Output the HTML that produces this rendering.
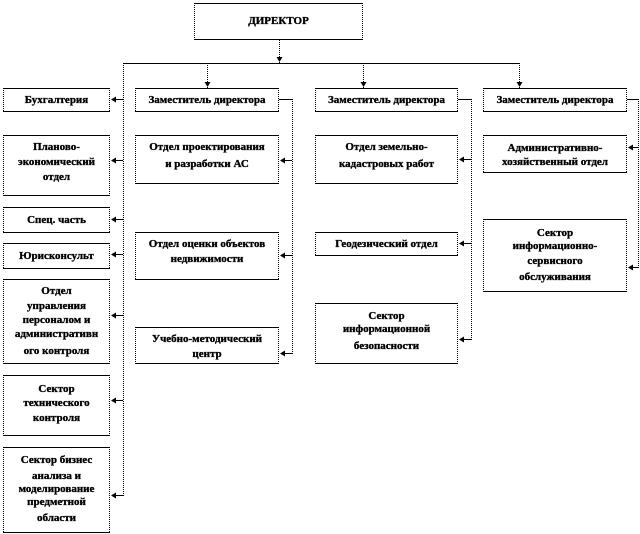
<!DOCTYPE html>
<html><head><meta charset="utf-8"><style>
html,body{margin:0;padding:0;background:#fff;}
svg{display:block;}
text{font-family:"Liberation Serif",serif;font-weight:bold;font-size:11px;fill:#000;stroke:#000;stroke-width:0.35px;text-anchor:middle;}
.s{stroke:#000;stroke-width:1;fill:none;}
.d{stroke:#000;stroke-width:1;fill:none;stroke-dasharray:1 1;}
</style></head><body>
<svg width="640" height="534" viewBox="0 0 640 534" xmlns="http://www.w3.org/2000/svg">
<defs>
<g id="al"><polygon points="0,0 5,-3 5,3" fill="#000"/></g>
<g id="ad"><polygon points="0,0 -3,-5 3,-5" fill="#000"/></g>
</defs>

<g shape-rendering="crispEdges">
<!-- Director -->
<path class="s" d="M194,3.5H363M194,39.5H363"/><path class="d" d="M194.5,3V40M362.5,3V40"/>
<!-- Zam 1,2,3 -->
<path class="s" d="M135,88.5H279M135,111.5H279"/><path class="d" d="M135.5,88V112M278.5,88V112"/>
<path class="s" d="M315,88.5H458M315,111.5H458"/><path class="d" d="M315.5,88V112M457.5,88V112"/>
<path class="s" d="M483,88.5H627M483,111.5H627"/><path class="d" d="M483.5,88V112M626.5,88V112"/>
<!-- Left column -->
<path class="s" d="M3,88.5H110M3,111.5H110"/><path class="d" d="M3.5,88V112M109.5,88V112"/>
<path class="s" d="M3,135.5H110M3,195.5H110"/><path class="d" d="M3.5,135V196M109.5,135V196"/>
<path class="s" d="M3,207.5H110M3,232.5H110"/><path class="d" d="M3.5,207V233M109.5,207V233"/>
<path class="s" d="M3,243.5H110M3,268.5H110"/><path class="d" d="M3.5,243V269M109.5,243V269"/>
<path class="s" d="M3,279.5H110M3,363.5H110"/><path class="d" d="M3.5,279V364M109.5,279V364"/>
<path class="s" d="M3,375.5H110M3,435.5H110"/><path class="d" d="M3.5,375V436M109.5,375V436"/>
<path class="s" d="M3,447.5H110M3,532.5H110"/><path class="d" d="M3.5,447V533M109.5,447V533"/>
<!-- Column 2 -->
<path class="s" d="M135,135.5H279M135,183.5H279"/><path class="d" d="M135.5,135V184M278.5,135V184"/>
<path class="s" d="M135,232.5H279M135,279.5H279"/><path class="d" d="M135.5,232V280M278.5,232V280"/>
<path class="s" d="M135,327.5H279M135,363.5H279"/><path class="d" d="M135.5,327V364M278.5,327V364"/>
<!-- Column 3 -->
<path class="s" d="M315,135.5H458M315,183.5H458"/><path class="d" d="M315.5,135V184M457.5,135V184"/>
<path class="s" d="M315,232.5H458M315,255.5H458"/><path class="d" d="M315.5,232V256M457.5,232V256"/>
<path class="s" d="M315,303.5H458M315,363.5H458"/><path class="d" d="M315.5,303V364M457.5,303V364"/>
<!-- Column 4 -->
<path class="s" d="M483,135.5H627M483,172.5H627"/><path class="d" d="M483.5,135V173M626.5,135V173"/>
<path class="s" d="M483,219.5H627M483,291.5H627"/><path class="d" d="M483.5,219V292M626.5,219V292"/>

<!-- Connectors -->
<path class="d" d="M279.5,40V63"/>
<path class="s" d="M123,63.5H520"/>
<path class="d" d="M207.5,63V88M363.5,63V88M519.5,63V88"/>
<path class="d" d="M123.5,63V496"/>
<path class="s" d="M112,99.5H123M112,160.5H123M112,219.5H123M112,254.5H123M112,315.5H123M112,400.5H123M112,495.5H123"/>
<path class="s" d="M279,99.5H292"/>
<path class="d" d="M292.5,99V354"/>
<path class="s" d="M281,160.5H292M281,255.5H292M281,353.5H292"/>
<path class="s" d="M458,99.5H471"/>
<path class="d" d="M471.5,99V340"/>
<path class="s" d="M460,159.5H471M460,243.5H471M460,339.5H471"/>
<path class="s" d="M627,99.5H638"/>
<path class="d" d="M638.5,99V268"/>
<path class="s" d="M629,147.5H638M629,267.5H638"/>
</g>

<use href="#ad" x="279.5" y="62"/>
<use href="#ad" x="207.5" y="87"/>
<use href="#ad" x="363.5" y="87"/>
<use href="#ad" x="519.5" y="87"/>
<use href="#al" x="111" y="99.5"/><use href="#al" x="111" y="160.5"/><use href="#al" x="111" y="219.5"/>
<use href="#al" x="111" y="254.5"/><use href="#al" x="111" y="315.5"/><use href="#al" x="111" y="400.5"/>
<use href="#al" x="111" y="495.5"/>
<use href="#al" x="280" y="160.5"/><use href="#al" x="280" y="255.5"/><use href="#al" x="280" y="353.5"/>
<use href="#al" x="459" y="159.5"/><use href="#al" x="459" y="243.5"/><use href="#al" x="459" y="339.5"/>
<use href="#al" x="628" y="147.5"/><use href="#al" x="628" y="267.5"/>

<!-- Text -->
<text x="278.5" y="24">ДИРЕКТОР</text>
<text x="207" y="103">Заместитель  директора</text>
<text x="386.5" y="103">Заместитель  директора</text>
<text x="555" y="103">Заместитель  директора</text>

<text x="56.5" y="103">Бухгалтерия</text>
<text x="56.5" y="150">Планово-</text>
<text x="56.5" y="165">экономический</text>
<text x="56.5" y="180">отдел</text>
<text x="56.5" y="223">Спец. часть</text>
<text x="56.5" y="259">Юрисконсульт</text>
<text x="56.5" y="294">Отдел</text>
<text x="56.5" y="309">управления</text>
<text x="56.5" y="323">персоналом и</text>
<text x="56.5" y="337">административн</text>
<text x="56.5" y="354">ого контроля</text>
<text x="56.5" y="392">Сектор</text>
<text x="56.5" y="406">технического</text>
<text x="56.5" y="421">контроля</text>
<text x="56.5" y="463">Сектор бизнес</text>
<text x="56.5" y="479">анализа  и</text>
<text x="56.5" y="492">моделирование</text>
<text x="56.5" y="505">предметной</text>
<text x="56.5" y="521">области</text>

<text x="207" y="150">Отдел проектирования</text>
<text x="207" y="167">и разработки АС</text>
<text x="207" y="247">Отдел оценки  объектов</text>
<text x="207" y="262">недвижимости</text>
<text x="207" y="342">Учебно-методический</text>
<text x="207" y="357">центр</text>

<text x="386.5" y="150">Отдел земельно-</text>
<text x="386.5" y="167">кадастровых работ</text>
<text x="386.5" y="247">Геодезический  отдел</text>
<text x="386.5" y="319">Сектор</text>
<text x="386.5" y="332">информационной</text>
<text x="386.5" y="349">безопасности</text>

<text x="555" y="151">Административно-</text>
<text x="555" y="165">хозяйственный  отдел</text>
<text x="555" y="236">Сектор</text>
<text x="555" y="249">информационно-</text>
<text x="555" y="264">сервисного</text>
<text x="555" y="280">обслуживания</text>
</svg>
</body></html>
